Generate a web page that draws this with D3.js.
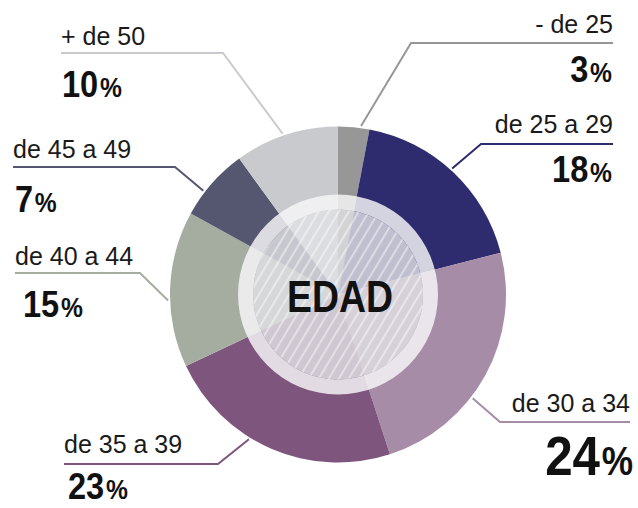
<!DOCTYPE html>
<html>
<head>
<meta charset="utf-8">
<script src="https://cdn.jsdelivr.net/npm/d3@7"></script>
<style>
  html, body { margin: 0; padding: 0; background: #fff; }
  svg { display: block; font-family: "Liberation Sans", Arial, sans-serif; }
</style>
</head>
<body>
<svg id="chart" width="638" height="508"></svg>
<script>
// Age groups and their share (%)
const categories = ["- de 25", "de 25 a 29", "de 30 a 34", "de 35 a 39", "de 40 a 44", "de 45 a 49", "+ de 50"];
const values = [3, 18, 24, 23, 15, 7, 10];
const colors = ["#979797", "#2e2b6e", "#a78ca8", "#7e557c", "#a5aca0", "#555770", "#c9cacd"];
const centerTitle = "EDAD";

// where each label sits (text anchor x, baseline y, elbow of the leader line...)
const labelLayout = [
  { anchor: "end",   x: 613, y: 33,  lineY: 43,  elbowX: 411, pctX: 612, pctY: 82,  shift: 2.4, big: false },
  { anchor: "end",   x: 613, y: 133, lineY: 144, elbowX: 481, pctX: 612, pctY: 182, shift: -1,  big: false },
  { anchor: "end",   x: 630, y: 412, lineY: 422, elbowX: 500, pctX: 633, pctY: 475, shift: 8.8, big: true },
  { anchor: "start", x: 64,  y: 453, lineY: 464, elbowX: 218, pctX: 68,  pctY: 499, shift: 8.2, big: false },
  { anchor: "start", x: 15,  y: 265, lineY: 273, elbowX: 140, pctX: 23,  pctY: 317, shift: -3.8, big: false },
  { anchor: "start", x: 13,  y: 158, lineY: 167, elbowX: 175, pctX: 15,  pctY: 212, shift: -3.8, big: false },
  { anchor: "start", x: 61,  y: 45,  lineY: 53,  elbowX: 223, pctX: 62,  pctY: 97,  shift: -1,  big: false }
];

const cx = 338, cy = 294.5;
const outerR = 168, ringR = 100, innerR = 85;

const svg = d3.select("#chart");

const data = categories.map((c, i) => ({ name: c, value: values[i], color: colors[i], layout: labelLayout[i] }));

const pie = d3.pie().sort(null).value(d => d.value);
const arcs = pie(data);

const arc = d3.arc().innerRadius(0).outerRadius(outerR);

// hatch pattern for the middle disc
const defs = svg.append("defs");
const pattern = defs.append("pattern")
  .attr("id", "hatch")
  .attr("patternUnits", "userSpaceOnUse")
  .attr("width", 8.6)
  .attr("height", 8.6)
  .attr("patternTransform", "rotate(31)");
pattern.append("rect")
  .attr("x", 0).attr("y", 0)
  .attr("width", 2).attr("height", 8.6)
  .attr("fill", "#fff")
  .attr("fill-opacity", 0.45);

const g = svg.append("g").attr("transform", `translate(${cx},${cy})`);

g.selectAll("path.slice")
  .data(arcs)
  .enter().append("path")
  .attr("class", "slice")
  .attr("d", arc)
  .attr("fill", d => d.data.color);

// translucent ring + inner disc
g.append("path")
  .attr("d", d3.arc().innerRadius(innerR).outerRadius(ringR).startAngle(0).endAngle(2 * Math.PI)())
  .attr("fill", "#f7f7f8")
  .attr("fill-opacity", 0.83);

g.append("circle")
  .attr("r", innerR)
  .attr("fill", "#e0e0e4")
  .attr("fill-opacity", 0.82);

g.append("circle")
  .attr("r", innerR)
  .attr("fill", "url(#hatch)");

// title in the middle
g.append("text")
  .attr("transform", "translate(2,17.5) scale(0.85,1)")
  .attr("text-anchor", "middle")
  .attr("font-weight", "bold")
  .attr("font-size", 44)
  .attr("fill", "#111")
  .text(centerTitle);

// leader lines
const line = d3.line();
svg.append("g")
  .selectAll("path")
  .data(arcs)
  .enter().append("path")
  .attr("fill", "none")
  .attr("stroke", d => d.data.color)
  .attr("stroke-width", 2)
  .attr("d", d => {
    const L = d.data.layout;
    const a = (d.startAngle + d.endAngle) / 2 + L.shift * Math.PI / 180;
    const px = cx + Math.sin(a) * (outerR + 2);
    const py = cy - Math.cos(a) * (outerR + 2);
    return line([[L.x, L.lineY], [L.elbowX, L.lineY], [px, py]]);
  });

// category labels
svg.append("g")
  .selectAll("text")
  .data(data)
  .enter().append("text")
  .attr("x", d => d.layout.x)
  .attr("y", d => d.layout.y)
  .attr("text-anchor", d => d.layout.anchor)
  .attr("font-size", 25)
  .attr("fill", "#1a1a1a")
  .text(d => d.name);

// percentages
const pct = svg.append("g")
  .selectAll("text")
  .data(data)
  .enter().append("text")
  .attr("transform", d => `translate(${d.layout.pctX},${d.layout.pctY}) scale(0.88,1)`)
  .attr("text-anchor", d => d.layout.anchor)
  .attr("font-weight", "bold")
  .attr("fill", "#111");

pct.append("tspan")
  .attr("font-size", d => d.layout.big ? 56 : 37)
  .text(d => d.value);

pct.append("tspan")
  .attr("dx", 2)
  .attr("font-size", d => d.layout.big ? 40 : 28)
  .text("%");
</script>
</body>
</html>
